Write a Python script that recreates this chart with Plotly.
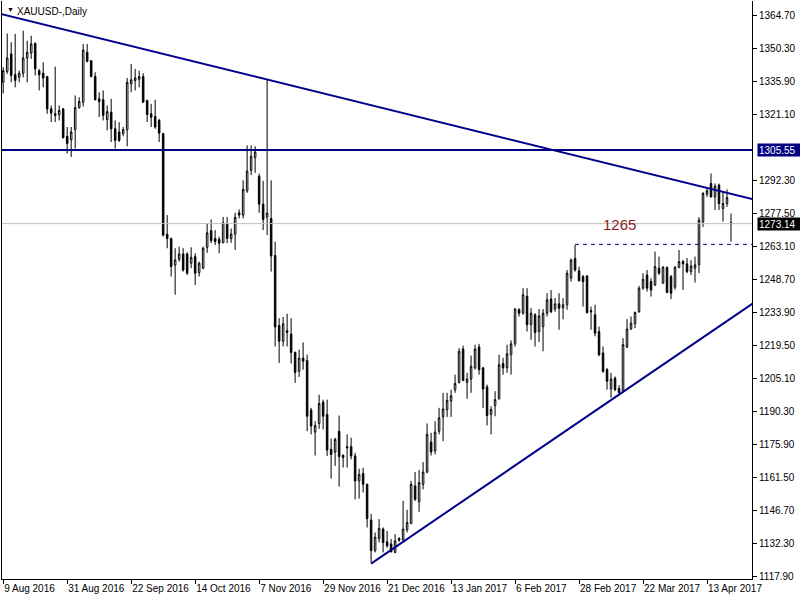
import plotly.graph_objects as go

# ---------------- data (XAUUSD daily) ----------------
opens = [1335.4, 1340.2, 1347.9, 1338.8, 1337.6, 1339.4, 1346.1, 1348.3, 1352.5, 1340.5,
         1339.4, 1337.9, 1323.7, 1321.5, 1321.1, 1323.7, 1311.6, 1310.1, 1314.5, 1324.2,
         1326.6, 1348.6, 1344.9, 1337.9, 1328.1, 1327.7, 1318.9, 1322.2, 1314.9, 1313.5,
         1312.8, 1314.5, 1334.7, 1336.2, 1336.7, 1337.9, 1327.4, 1321.5, 1320.4, 1318.6,
         1312.8, 1268.5, 1266.6, 1254.9, 1257.4, 1259.8, 1259.8, 1255.7, 1258.6, 1251.6,
         1253.5, 1262.7, 1270.0, 1266.6, 1266.2, 1264.7, 1273.2, 1266.6, 1268.5, 1277.9,
         1276.9, 1287.6, 1296.6, 1302.2, 1294.0, 1281.7, 1276.0, 1275.4, 1259.1, 1228.2,
         1221.3, 1226.0, 1224.5, 1216.4, 1208.1, 1213.9, 1212.8, 1191.0, 1181.3, 1185.1,
         1194.5, 1189.1, 1173.7, 1172.5, 1181.7, 1171.1, 1174.9, 1174.9, 1170.8, 1159.8,
         1163.1, 1158.3, 1142.6, 1129.1, 1134.5, 1138.6, 1133.0, 1132.0, 1128.3, 1134.4,
         1133.9, 1138.3, 1141.1, 1157.6, 1150.6, 1158.3, 1163.7, 1176.9, 1173.0, 1181.7,
         1188.0, 1191.2, 1195.0, 1200.0, 1203.2, 1217.9, 1203.2, 1204.7, 1209.6, 1218.8,
         1209.6, 1201.2, 1189.1, 1193.0, 1196.0, 1211.5, 1209.6, 1215.4, 1220.2, 1235.2,
         1233.7, 1241.1, 1228.6, 1233.0, 1225.6, 1227.8, 1233.7, 1239.9, 1235.5, 1237.8,
         1236.0, 1237.4, 1249.1, 1257.8, 1252.4, 1249.8, 1250.1, 1234.8, 1233.0, 1225.6,
         1216.2, 1208.8, 1200.3, 1205.1, 1200.5, 1199.3, 1218.8, 1226.7, 1229.0, 1234.4,
         1244.7, 1250.5, 1247.6, 1246.1, 1253.5, 1246.9, 1253.9, 1249.8, 1245.1, 1253.9,
         1256.4, 1255.4, 1252.0, 1253.5, 1255.0, 1273.9, 1286.1, 1290.8, 1284.9, 1290.1,
         1279.8, 1282.0, 1273.5]
highs = [1342.0, 1356.9, 1353.0, 1356.7, 1340.5, 1358.1, 1353.7, 1355.9, 1353.0, 1341.3,
         1344.2, 1338.2, 1325.2, 1342.3, 1325.2, 1324.0, 1315.7, 1315.7, 1329.6, 1328.8,
         1352.3, 1352.3, 1345.2, 1339.8, 1331.0, 1331.8, 1325.2, 1328.1, 1318.6, 1317.8,
         1315.7, 1337.3, 1343.5, 1341.3, 1340.5, 1339.4, 1327.7, 1325.9, 1327.7, 1319.3,
         1313.1, 1276.9, 1266.9, 1262.3, 1263.0, 1262.3, 1260.5, 1262.7, 1260.1, 1256.4,
         1263.0, 1273.2, 1275.0, 1270.3, 1267.4, 1276.1, 1276.1, 1271.0, 1277.9, 1279.4,
         1292.2, 1307.6, 1307.6, 1307.2, 1295.2, 1292.0, 1336.6, 1292.2, 1265.2, 1231.5,
         1232.0, 1233.4, 1231.5, 1216.8, 1217.6, 1220.8, 1215.4, 1192.0, 1186.1, 1197.8,
         1195.6, 1195.6, 1178.4, 1178.8, 1188.6, 1171.5, 1180.3, 1178.8, 1172.2, 1165.2,
         1165.6, 1158.6, 1145.2, 1137.1, 1143.0, 1139.3, 1137.8, 1134.2, 1136.4, 1135.0,
         1151.0, 1147.1, 1159.8, 1163.7, 1164.6, 1168.1, 1185.1, 1181.0, 1186.1, 1192.0,
         1198.6, 1198.6, 1200.0, 1206.6, 1218.3, 1219.4, 1207.4, 1215.0, 1219.8, 1220.2,
         1209.9, 1202.2, 1192.7, 1199.3, 1215.4, 1214.0, 1219.8, 1221.7, 1235.9, 1235.9,
         1244.7, 1244.7, 1235.9, 1233.7, 1235.5, 1235.5, 1242.5, 1243.9, 1240.4, 1242.5,
         1240.3, 1252.7, 1257.8, 1263.7, 1254.2, 1250.5, 1250.4, 1236.6, 1237.4, 1227.8,
         1219.0, 1209.6, 1207.4, 1205.8, 1202.0, 1222.7, 1231.1, 1232.2, 1234.4, 1245.7,
         1251.3, 1252.7, 1249.1, 1260.8, 1258.6, 1254.5, 1254.2, 1250.5, 1254.5, 1261.5,
         1257.1, 1258.0, 1257.1, 1258.6, 1276.0, 1287.1, 1288.6, 1295.2, 1290.8, 1290.8,
         1287.1, 1288.2, 1277.6]
lows = [1330.5, 1339.1, 1335.4, 1333.2, 1335.4, 1337.6, 1335.4, 1345.7, 1338.4, 1331.8,
        1333.2, 1321.5, 1317.9, 1317.9, 1318.6, 1310.6, 1304.0, 1302.5, 1306.2, 1323.8,
        1324.7, 1344.2, 1337.6, 1327.4, 1320.1, 1318.6, 1314.2, 1309.1, 1306.2, 1309.1,
        1311.6, 1307.2, 1331.0, 1331.8, 1333.2, 1326.3, 1317.9, 1315.7, 1314.9, 1309.1,
        1267.4, 1262.3, 1249.8, 1241.8, 1256.4, 1252.0, 1250.5, 1253.5, 1246.1, 1249.8,
        1253.0, 1260.3, 1264.5, 1263.7, 1260.1, 1264.5, 1264.5, 1264.7, 1261.5, 1275.4,
        1275.4, 1286.7, 1294.5, 1295.5, 1277.9, 1270.3, 1268.1, 1252.0, 1219.0, 1211.8,
        1219.0, 1219.0, 1211.5, 1203.0, 1205.6, 1208.8, 1181.7, 1180.3, 1171.0, 1182.7,
        1182.5, 1170.8, 1160.8, 1166.4, 1157.3, 1165.7, 1165.7, 1169.3, 1151.7, 1152.0,
        1154.7, 1139.3, 1123.9, 1128.3, 1132.7, 1128.3, 1130.4, 1128.3, 1128.0, 1133.0,
        1132.5, 1137.1, 1140.7, 1151.0, 1146.2, 1156.1, 1163.1, 1171.0, 1171.5, 1180.3,
        1177.3, 1188.0, 1188.0, 1198.6, 1202.7, 1203.7, 1196.0, 1198.6, 1208.8, 1206.6,
        1191.9, 1184.2, 1180.3, 1188.3, 1195.6, 1206.6, 1207.4, 1206.6, 1219.0, 1232.2,
        1233.0, 1225.6, 1222.0, 1219.0, 1221.0, 1216.9, 1232.2, 1233.7, 1234.3, 1226.4,
        1231.0, 1235.2, 1247.6, 1252.0, 1247.6, 1236.6, 1233.4, 1226.4, 1223.5, 1214.7,
        1207.4, 1200.0, 1196.4, 1199.3, 1197.5, 1198.6, 1218.3, 1226.4, 1227.1, 1233.8,
        1244.0, 1243.2, 1241.0, 1245.7, 1250.5, 1246.6, 1242.5, 1239.9, 1244.0, 1253.5,
        1243.9, 1251.3, 1250.5, 1247.2, 1251.3, 1271.7, 1284.9, 1284.7, 1279.1, 1279.1,
        1274.0, 1280.5, 1265.2]
closes = [1340.5, 1346.1, 1338.4, 1336.2, 1339.4, 1346.1, 1348.6, 1352.3, 1341.3, 1338.7,
          1337.3, 1323.7, 1321.8, 1320.8, 1323.0, 1311.0, 1308.4, 1313.5, 1324.2, 1326.9,
          1349.6, 1344.6, 1337.9, 1327.7, 1326.9, 1320.8, 1322.5, 1314.9, 1309.8, 1309.8,
          1314.5, 1335.4, 1336.5, 1337.3, 1337.9, 1326.6, 1321.2, 1320.0, 1315.7, 1313.0,
          1268.1, 1266.6, 1254.2, 1257.1, 1259.8, 1252.7, 1251.3, 1258.3, 1251.3, 1255.7,
          1262.3, 1269.1, 1265.6, 1265.2, 1264.5, 1273.5, 1266.6, 1268.5, 1275.9, 1276.9,
          1288.2, 1296.3, 1302.8, 1304.7, 1281.7, 1275.0, 1277.8, 1258.9, 1227.6, 1221.3,
          1229.0, 1225.2, 1216.4, 1207.6, 1213.9, 1212.5, 1188.3, 1184.0, 1184.2, 1193.9,
          1188.3, 1173.4, 1171.5, 1178.1, 1170.5, 1170.1, 1174.4, 1170.8, 1159.8, 1162.7,
          1158.3, 1143.2, 1129.1, 1135.0, 1138.9, 1132.7, 1131.2, 1128.6, 1133.4, 1133.7,
          1138.6, 1141.5, 1158.3, 1151.7, 1159.1, 1163.7, 1180.3, 1172.5, 1181.3, 1187.6,
          1191.5, 1195.3, 1197.3, 1202.7, 1216.9, 1204.1, 1204.7, 1210.3, 1217.9, 1208.8,
          1200.3, 1188.6, 1191.3, 1195.6, 1211.0, 1209.6, 1215.8, 1220.2, 1235.5, 1233.7,
          1241.8, 1228.6, 1233.7, 1225.2, 1232.5, 1233.7, 1239.6, 1234.4, 1237.8, 1235.9,
          1237.4, 1251.3, 1257.1, 1252.7, 1248.0, 1247.6, 1234.0, 1234.3, 1224.9, 1215.4,
          1208.1, 1203.7, 1204.7, 1200.0, 1198.8, 1219.8, 1226.7, 1229.3, 1234.0, 1244.7,
          1248.6, 1244.7, 1243.9, 1254.2, 1251.3, 1253.9, 1242.8, 1242.5, 1253.9, 1256.4,
          1255.4, 1252.0, 1254.5, 1255.0, 1274.7, 1286.4, 1287.6, 1284.9, 1289.6, 1282.0,
          1282.0, 1284.6, 1273.14]

date_labels = ["9 Aug 2016", "31 Aug 2016", "22 Sep 2016", "14 Oct 2016", "7 Nov 2016",
               "29 Nov 2016", "21 Dec 2016", "13 Jan 2017", "6 Feb 2017", "28 Feb 2017",
               "22 Mar 2017", "13 Apr 2017"]
bars_per_label = 16

price_ticks = [1364.70, 1350.30, 1335.90, 1321.10, 1292.30, 1277.50, 1263.10, 1248.70,
               1233.90, 1219.50, 1205.10, 1190.30, 1175.90, 1161.50, 1146.70, 1132.30, 1117.90]

# drawn objects (bar index, price)
down_trend = [(0, 1365.25), (66, 1336.6)]
up_trend = [(92, 1123.4), (154, 1197.8)]
resistance_level = 1305.55
support_level = 1264.0
support_start_bar = 143
last_price = 1273.14
note_text = "1265"
note_pos = (154, 1272.7)

# ---------------- figure ----------------
n = len(closes)
xs = list(range(n))
x_lo, x_hi = -0.3, 187.25
y_lo, y_hi = 1116.6, 1371.2

fig = go.Figure()

# last price line (behind candles)
fig.add_trace(go.Scatter(x=[x_lo, x_hi], y=[last_price, last_price], mode="lines",
                         line=dict(color="#c0c0c0", width=1), hoverinfo="skip", showlegend=False))

fig.add_trace(go.Candlestick(
    x=xs, open=opens, high=highs, low=lows, close=closes,
    increasing=dict(line=dict(color="black", width=1), fillcolor="white"),
    decreasing=dict(line=dict(color="black", width=1), fillcolor="black"),
    whiskerwidth=0, showlegend=False))

def line_through(pts, x0, x1):
    (a, pa), (b, pb) = pts
    s = (pb - pa) / (b - a)
    return [x0, x1], [pa + s * (x0 - a), pa + s * (x1 - a)]

lx, ly = line_through(down_trend, x_lo - 1, x_hi + 1)
fig.add_trace(go.Scatter(x=lx, y=ly, mode="lines", line=dict(color="#00008b", width=2),
                         hoverinfo="skip", showlegend=False))
lx, ly = line_through(up_trend, up_trend[0][0], x_hi + 1)
fig.add_trace(go.Scatter(x=lx, y=ly, mode="lines", line=dict(color="#00008b", width=2),
                         hoverinfo="skip", showlegend=False))
fig.add_trace(go.Scatter(x=[x_lo - 1, x_hi + 1], y=[resistance_level] * 2, mode="lines",
                         line=dict(color="#000080", width=2), hoverinfo="skip", showlegend=False))
fig.add_trace(go.Scatter(x=[support_start_bar, x_hi + 1], y=[support_level] * 2, mode="lines",
                         line=dict(color="#000080", width=1, dash="4px,4px"),
                         hoverinfo="skip", showlegend=False))

fig.update_layout(
    width=800, height=600,
    margin=dict(l=2, r=48, t=1, b=21, autoexpand=False),
    paper_bgcolor="white", plot_bgcolor="white",
    font=dict(family="Liberation Sans, Arial, sans-serif", size=10, color="black"),
    boxgap=0.45,
    showlegend=False,
    xaxis=dict(range=[x_lo, x_hi], rangeslider=dict(visible=False), automargin=False,
               tickvals=list(range(0, bars_per_label * len(date_labels), bars_per_label)),
               ticktext=date_labels, tickangle=0, ticks="outside", ticklen=4, tickcolor="black",
               ticklabelposition="outside right",
               showline=True, linecolor="black", linewidth=1, showgrid=False, zeroline=False),
    yaxis=dict(range=[y_lo, y_hi], side="right", tickvals=price_ticks, automargin=False,
               ticktext=[f"{v:.2f}" for v in price_ticks], ticks="outside", ticklen=4,
               tickcolor="black", showline=True, linecolor="black", linewidth=1,
               mirror=True, showgrid=False, zeroline=False),
)

fig.add_annotation(xref="paper", yref="y", x=1, y=resistance_level, xanchor="left", xshift=5,
                   text=f"{resistance_level:.2f}", showarrow=False, bgcolor="#000080",
                   font=dict(color="white", size=10), borderpad=1, width=40, height=10, align="left")
fig.add_annotation(xref="paper", yref="y", x=1, y=last_price, xanchor="left", xshift=5,
                   text=f"{last_price:.2f}", showarrow=False, bgcolor="black",
                   font=dict(color="white", size=10), borderpad=1, width=40, height=10, align="left")
fig.add_annotation(xref="x", yref="y", x=note_pos[0], y=note_pos[1], text=note_text,
                   showarrow=False, font=dict(color="#8b1c1c", size=15,
                                              family="Liberation Sans, Arial, sans-serif"))
fig.add_annotation(xref="paper", yref="paper", x=0, y=1, xanchor="left", yanchor="top",
                   xshift=3, yshift=-3, text="▼", showarrow=False, font=dict(size=7, color="black"))
fig.add_annotation(xref="paper", yref="paper", x=0, y=1, xanchor="left", yanchor="top",
                   xshift=13, yshift=-3, text="XAUUSD-,Daily", showarrow=False,
                   font=dict(size=10, color="black"))

fig.write_html("out.html", config={"displayModeBar": False},
               post_script="document.body.style.margin='0';document.body.style.overflow='hidden';")
